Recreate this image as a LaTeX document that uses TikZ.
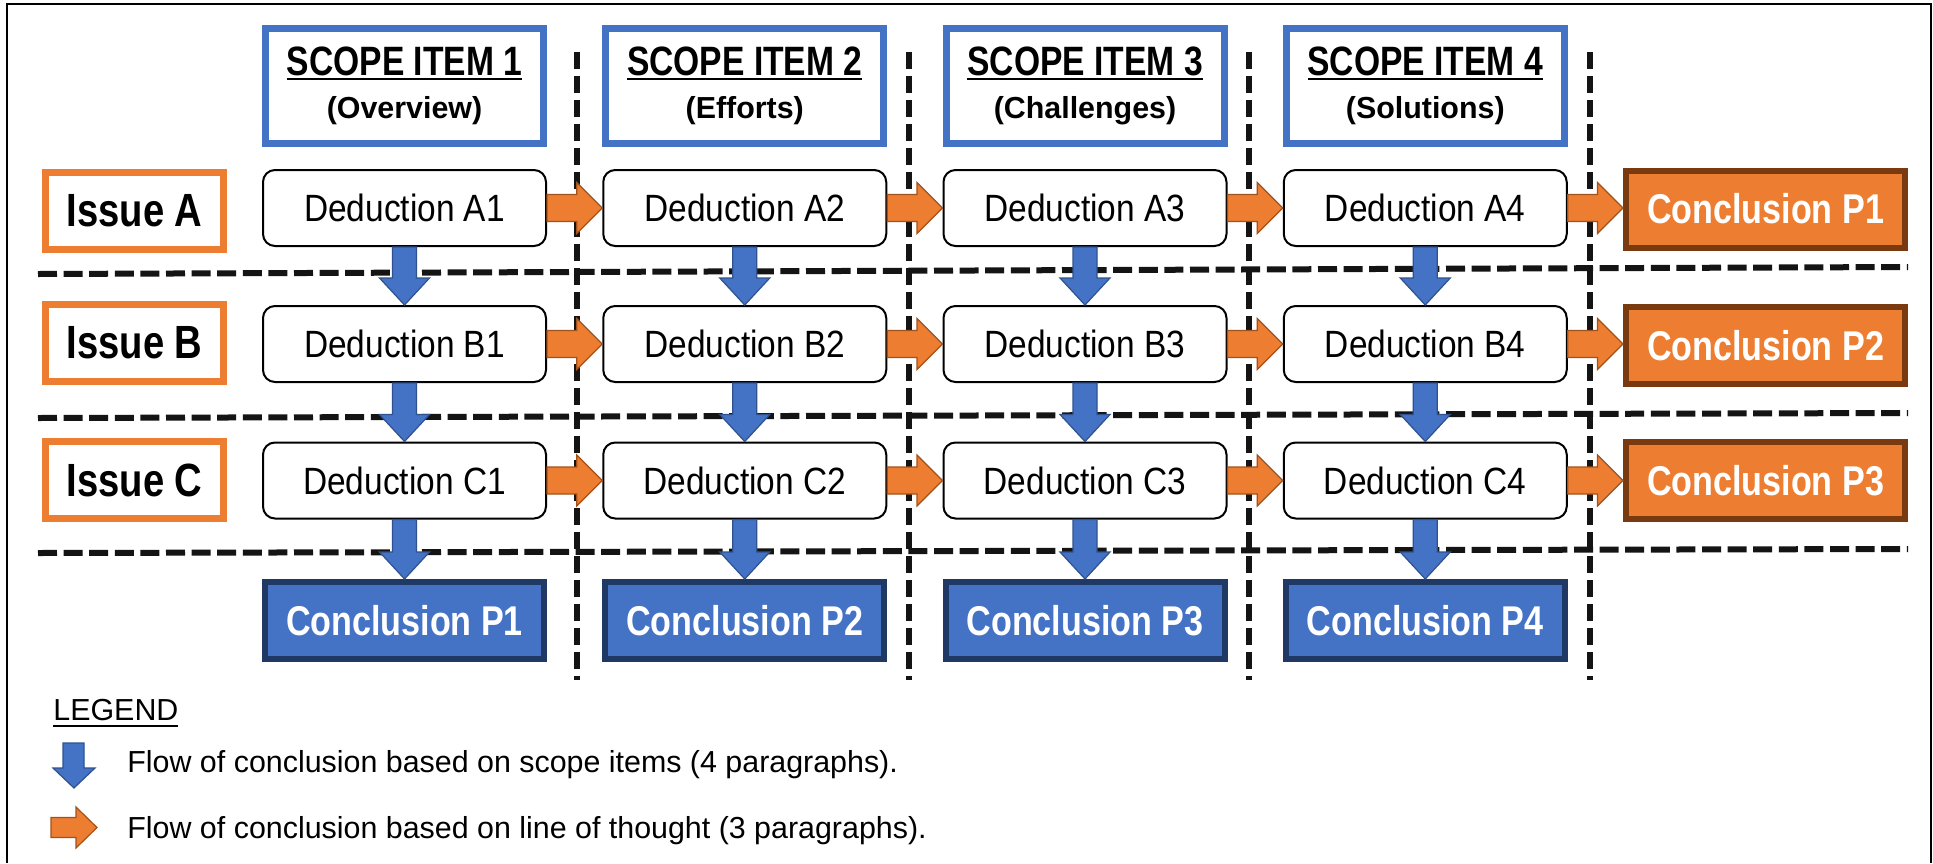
\documentclass[tikz,border=0pt]{standalone}
\usepackage{fontspec}
\setmainfont{Liberation Sans}
\newfontfamily\dedfont{Liberation Sans}[FakeStretch=0.88]
\newfontfamily\narbold{Liberation Sans}[FakeStretch=0.82]
\usetikzlibrary{calc}
\definecolor{cblue}{HTML}{4472C4}
\definecolor{cnavy}{HTML}{1F3864}
\definecolor{corange}{HTML}{ED7D31}
\definecolor{cbrown}{HTML}{7A3A10}
\definecolor{cblueline}{HTML}{2F528F}
\definecolor{corangeline}{HTML}{A0521C}
\newcommand\myul[1]{\setbox0=\hbox{#1}\leavevmode\rlap{\rule[-2.2pt]{\wd0}{1.1pt}}\box0}
\newcommand\mydownflow[2]{%
  \filldraw[blueflow] let \p1=(#1.south), \p2=(#2.north) in
   (\x1-6pt,\y1) -- (\x1-6pt,\y2+13.5pt) -- (\x1-12.5pt,\y2+13.5pt) -- (\x1,\y2)
   -- (\x1+12.5pt,\y2+13.5pt) -- (\x1+6pt,\y2+13.5pt) -- (\x1+6pt,\y1) -- cycle;}
\newcommand\myrightflow[2]{%
  \filldraw[orangeflow] let \p1=(#1.east), \p2=(#2.west) in
   (\x1,\y1+6.75pt) -- (\x2-12.75pt,\y1+6.75pt) -- (\x2-12.75pt,\y1+12.75pt) -- (\x2,\y1)
   -- (\x2-12.75pt,\y1-12.75pt) -- (\x2-12.75pt,\y1-6.75pt) -- (\x1,\y1-6.75pt) -- cycle;}
\begin{document}
\begin{tikzpicture}[x=0.5pt,y=-0.5pt,
  scopebox/.style={draw=cblue, line width=3.5pt, minimum width=139pt, minimum height=57.5pt,
    inner sep=0pt, align=center, font=\fontsize{15.2}{21.5}\selectfont},
  dedbox/.style={draw=black, line width=1pt, rounded corners=6pt, fill=white,
    minimum width=141.5pt, minimum height=38pt, inner sep=0pt,
    font=\dedfont\fontsize{19}{22}\selectfont},
  issuebox/.style={draw=corange, line width=3.5pt, fill=white, minimum width=89pt,
    minimum height=38.5pt, inner sep=0pt, font=\narbold\bfseries\fontsize{23.3}{26}\selectfont},
  bconc/.style={draw=cnavy, fill=cblue, text=white, line width=3pt, minimum width=139.5pt,
    minimum height=38.5pt, inner sep=0pt, font=\narbold\bfseries\fontsize{20.8}{24}\selectfont},
  oconc/.style={bconc, draw=cbrown, fill=corange},
  hdash/.style={line width=3pt, dash pattern=on 9.5pt off 3.3pt, black!92},
  vdash/.style={line width=2.6pt, dash pattern=on 8.5pt off 3.5pt, black!92},
  blueflow/.style={fill=cblue, draw=cblueline, line width=0.6pt, line join=miter},
  orangeflow/.style={fill=corange, draw=corangeline, line width=0.6pt, line join=miter},
  legtext/.style={anchor=base west, inner sep=0pt, font=\fontsize{15.2}{18}\selectfont}
]
\useasboundingbox (0,0) rectangle (1933,863);
\fill[white] (0,0) rectangle (1933,863);
% frame
\draw[line width=1.3pt] (7,863) -- (7,4) -- (1931,4) -- (1931,863);

% horizontal separators
\draw[hdash] (38,274) -- (1908,267);
\draw[hdash] (38,418) -- (1908,413);
\draw[hdash] (38,553) -- (1908,549);

% vertical separators
\draw[vdash] (577,52) -- (577,680);
\draw[vdash] (909,52) -- (909,680);
\draw[vdash] (1249,52) -- (1249,680);
\draw[vdash] (1590,52) -- (1590,680);

% scope items
\node[scopebox] (s1) at (404.5,86) {{\narbold\bfseries\fontsize{20.5}{24}\selectfont\myul{SCOPE ITEM 1}}\\{\bfseries (Overview)}};
\node[scopebox] (s2) at (744.75,86) {{\narbold\bfseries\fontsize{20.5}{24}\selectfont\myul{SCOPE ITEM 2}}\\{\bfseries (Efforts)}};
\node[scopebox] (s3) at (1085,86) {{\narbold\bfseries\fontsize{20.5}{24}\selectfont\myul{SCOPE ITEM 3}}\\{\bfseries (Challenges)}};
\node[scopebox] (s4) at (1425.25,86) {{\narbold\bfseries\fontsize{20.5}{24}\selectfont\myul{SCOPE ITEM 4}}\\{\bfseries (Solutions)}};

% issues
\node[issuebox] (ia) at (134.5,211) {Issue A};
\node[issuebox] (ib) at (134.5,343) {Issue B};
\node[issuebox] (ic) at (134.5,480) {Issue C};

% deductions
\node[dedbox] (a1) at (404.5,208) {Deduction A1};
\node[dedbox] (a2) at (744.75,208) {Deduction A2};
\node[dedbox] (a3) at (1085,208) {Deduction A3};
\node[dedbox] (a4) at (1425.25,208) {Deduction A4};
\node[dedbox] (b1) at (404.5,344) {Deduction B1};
\node[dedbox] (b2) at (744.75,344) {Deduction B2};
\node[dedbox] (b3) at (1085,344) {Deduction B3};
\node[dedbox] (b4) at (1425.25,344) {Deduction B4};
\node[dedbox] (c1) at (404.5,480.5) {Deduction C1};
\node[dedbox] (c2) at (744.75,480.5) {Deduction C2};
\node[dedbox] (c3) at (1085,480.5) {Deduction C3};
\node[dedbox] (c4) at (1425.25,480.5) {Deduction C4};

% conclusions (scope)
\node[bconc] (p1) at (404.5,620.5) {Conclusion P1};
\node[bconc] (p2) at (744.75,620.5) {Conclusion P2};
\node[bconc] (p3) at (1085,620.5) {Conclusion P3};
\node[bconc] (p4) at (1425.25,620.5) {Conclusion P4};

% conclusions (line of thought)
\node[oconc] (q1) at (1765.5,209) {Conclusion P1};
\node[oconc] (q2) at (1765.5,345.5) {Conclusion P2};
\node[oconc] (q3) at (1765.5,480.5) {Conclusion P3};

% downward flows
\mydownflow{a1}{b1}\mydownflow{a2}{b2}\mydownflow{a3}{b3}\mydownflow{a4}{b4}
\mydownflow{b1}{c1}\mydownflow{b2}{c2}\mydownflow{b3}{c3}\mydownflow{b4}{c4}
\mydownflow{c1}{p1}\mydownflow{c2}{p2}\mydownflow{c3}{p3}\mydownflow{c4}{p4}

% rightward flows
\myrightflow{a1}{a2}\myrightflow{a2}{a3}\myrightflow{a3}{a4}\myrightflow{a4}{q1}
\myrightflow{b1}{b2}\myrightflow{b2}{b3}\myrightflow{b3}{b4}\myrightflow{b4}{q2}
\myrightflow{c1}{c2}\myrightflow{c2}{c3}\myrightflow{c3}{c4}\myrightflow{c4}{q3}

% legend
\node[legtext] (leg) at (53,720) {\setbox0=\hbox{LEGEND}\rlap{\rule[-3.5pt]{\wd0}{1.2pt}}\box0};
\filldraw[blueflow] (63,743) -- (84,743) -- (84,768) -- (95,768) -- (74,788) -- (53,768) -- (63,768) -- cycle;
\filldraw[orangeflow] (51,817.5) -- (76,817.5) -- (76,807) -- (97,827.5) -- (76,848) -- (76,837.5) -- (51,837.5) -- cycle;
\node[legtext] (l1) at (127,772) {Flow of conclusion based on scope items (4 paragraphs).};
\node[legtext] (l2) at (127,838) {Flow of conclusion based on line of thought (3 paragraphs).};
\end{tikzpicture}
\end{document}
